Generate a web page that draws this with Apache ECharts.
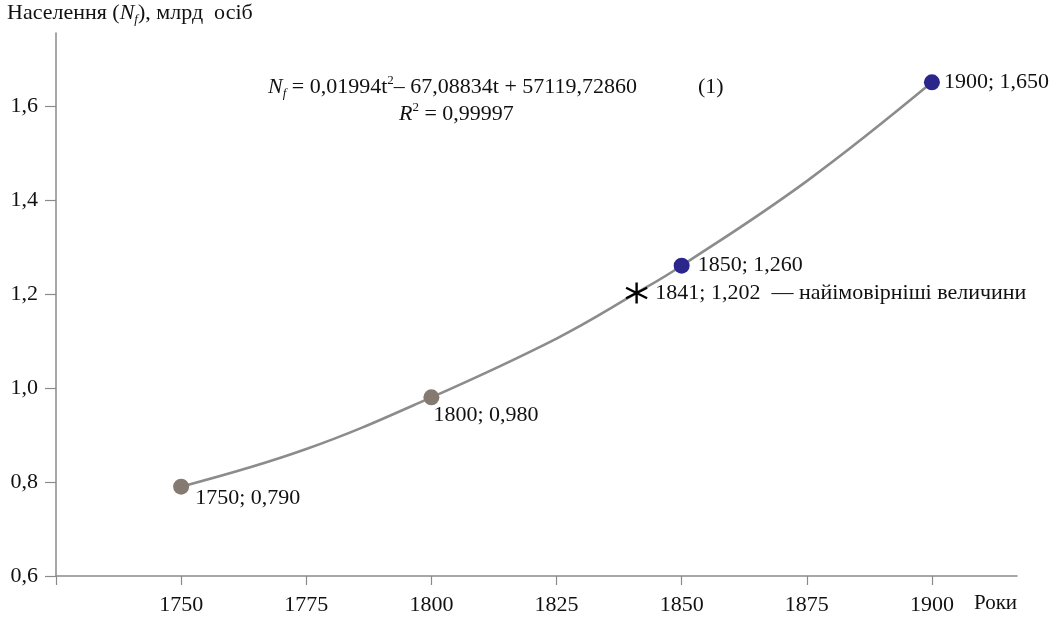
<!DOCTYPE html>
<html>
<head>
<meta charset="utf-8">
<script src="https://cdn.jsdelivr.net/npm/echarts@6/dist/echarts.min.js"></script>
<style>
html,body{margin:0;padding:0;background:#fff;}
#chart{width:1063px;height:618px;}
</style>
</head>
<body>
<div id="chart"></div>
<script>
// ---- data ----
const pointYears = [1750, 1800, 1841, 1850, 1900];
const pointValues = [0.790, 0.980, 1.202, 1.260, 1.650];
const pointLabels = ['1750; 0,790', '1800; 0,980', '1841; 1,202  — найімовірніші величини', '1850; 1,260', '1900; 1,650'];
const curveYears = [1750, 1775, 1800, 1825, 1841, 1850, 1875, 1900];
const curveValues = [0.790, 0.870, 0.980, 1.105, 1.202, 1.260, 1.440, 1.650];
const xTickValues = [1725, 1750, 1775, 1800, 1825, 1850, 1875, 1900];
const xLabelValues = [1750, 1775, 1800, 1825, 1850, 1875, 1900];
const yTickValues = [0.6, 0.8, 1.0, 1.2, 1.4, 1.6];

const FONT = '"Liberation Serif", "Times New Roman", serif';
const TXT = '#111111';
const brown = '#857a71';
const blue = '#2a268c';
const starPath = 'path://M10,0L10,20M1.34,5L18.66,15M1.34,15L18.66,5';

const pointStyles = [
  { color: brown, symbol: 'circle', size: 16, pos: [22, 9] },
  { color: brown, symbol: 'circle', size: 16, pos: [10, 15] },
  { color: 'star', symbol: starPath, size: 21, pos: 'right', dist: 7 },
  { color: blue, symbol: 'circle', size: 16, pos: 'right', dist: 8 },
  { color: blue, symbol: 'circle', size: 16, pos: 'right', dist: 4 }
];

const scatterData = pointYears.map((y, i) => {
  const st = pointStyles[i];
  const item = {
    value: [y, pointValues[i]],
    symbol: st.symbol,
    symbolSize: st.size,
    label: {
      show: true,
      formatter: pointLabels[i],
      position: st.pos,
      distance: st.dist || 3,
      color: TXT,
      fontFamily: FONT,
      fontSize: 22
    }
  };
  if (Array.isArray(st.pos)) {
    item.label.align = 'left';
    item.label.verticalAlign = 'top';
  }
  if (st.color === 'star') {
    item.itemStyle = { color: 'transparent', borderColor: '#000', borderWidth: 2.4, opacity: 1 };
  } else {
    item.itemStyle = { color: st.color, opacity: 1 };
  }
  return item;
});

const chart = echarts.init(document.getElementById('chart'), null, { renderer: 'canvas' });

const option = {
  backgroundColor: '#fff',
  animation: false,
  grid: { left: 56, right: 46, top: 33, bottom: 42, containLabel: false },
  xAxis: {
    type: 'value',
    min: 1725,
    max: 1917,
    interval: 25,
    axisLine: { show: true, lineStyle: { color: '#8a8a8a', width: 1.5 } },
    axisTick: { show: true, customValues: xTickValues, length: 9, lineStyle: { color: '#8a8a8a', width: 1.2 } },
    axisLabel: {
      customValues: xLabelValues,
      formatter: v => String(v),
      color: TXT, fontFamily: FONT, fontSize: 22, margin: 18
    },
    splitLine: { show: false }
  },
  yAxis: {
    type: 'value',
    min: 0.6,
    max: 1.755,
    interval: 0.2,
    axisLine: { show: true, lineStyle: { color: '#8a8a8a', width: 1.5 } },
    axisTick: { show: true, customValues: yTickValues, length: 11, lineStyle: { color: '#8a8a8a', width: 1.2 } },
    axisLabel: {
      customValues: yTickValues,
      formatter: v => Number(v).toFixed(1).replace('.', ','),
      color: TXT, fontFamily: FONT, fontSize: 22, margin: 18
    },
    splitLine: { show: false }
  },
  graphic: [
    {
      type: 'text', left: 7, top: 2,
      style: {
        text: '{n|Населення (}{i|N}{s|f}{n|), млрд  осіб}',
        rich: {
          n: { fontFamily: FONT, fontSize: 22, fill: TXT, lineHeight: 26 },
          i: { fontFamily: FONT, fontSize: 22, fontStyle: 'italic', fill: TXT, lineHeight: 26 },
          s: { fontFamily: FONT, fontSize: 13, fontStyle: 'italic', fill: TXT, verticalAlign: 'bottom', lineHeight: 26 }
        }
      }
    },
    {
      type: 'text', left: 974, top: 590,
      style: { text: 'Роки', fontFamily: FONT, fontSize: 21, fill: TXT, lineHeight: 26 }
    },
    {
      type: 'text', left: 268, top: 74,
      style: {
        text: '{i|N}{s|f}{n| = 0,01994t}{p|2}{n|– 67,08834t + 57119,72860}',
        rich: {
          n: { fontFamily: FONT, fontSize: 22, fill: TXT, lineHeight: 26 },
          i: { fontFamily: FONT, fontSize: 22, fontStyle: 'italic', fill: TXT, lineHeight: 26 },
          s: { fontFamily: FONT, fontSize: 13, fontStyle: 'italic', fill: TXT, verticalAlign: 'bottom', lineHeight: 26 },
          p: { fontFamily: FONT, fontSize: 13, fill: TXT, verticalAlign: 'top', lineHeight: 26 }
        }
      }
    },
    {
      type: 'text', left: 698, top: 74,
      style: { text: '(1)', fontFamily: FONT, fontSize: 22, fill: TXT, lineHeight: 26 }
    },
    {
      type: 'text', left: 399, top: 101,
      style: {
        text: '{i|R}{p|2}{n| = 0,99997}',
        rich: {
          n: { fontFamily: FONT, fontSize: 22, fill: TXT, lineHeight: 26 },
          i: { fontFamily: FONT, fontSize: 22, fontStyle: 'italic', fill: TXT, lineHeight: 26 },
          p: { fontFamily: FONT, fontSize: 13, fill: TXT, verticalAlign: 'top', lineHeight: 26 }
        }
      }
    }
  ],
  series: [
    {
      type: 'line',
      data: curveYears.map((y, i) => [y, curveValues[i]]),
      smooth: 0.4,
      showSymbol: false,
      lineStyle: { color: '#8c8c8c', width: 2.6 },
      z: 2
    },
    {
      type: 'scatter',
      data: scatterData,
      z: 3
    }
  ]
};
chart.setOption(option);
</script>
</body>
</html>
